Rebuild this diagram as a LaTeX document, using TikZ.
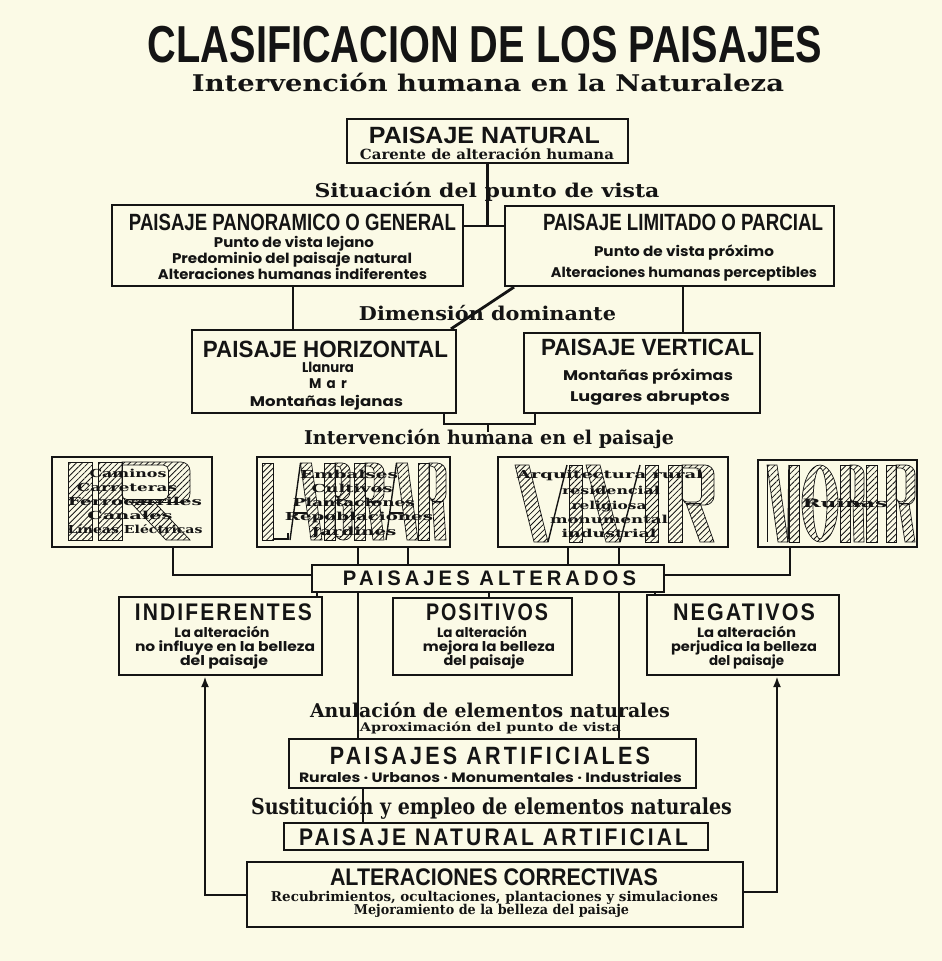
\documentclass[tikz,border=0pt]{standalone}
\usepackage{fontspec}
\usepackage{graphicx}
\usetikzlibrary{arrows.meta,patterns.meta,fit}
\newfontfamily\headf{Liberation Sans}
\newfontfamily\serf{DejaVu Serif}
\newfontfamily\geof{Poppins}
\definecolor{bg}{HTML}{FBFAE6}
\definecolor{ink}{HTML}{141414}
\pgfdeclarelayer{bgl}
\pgfdeclarelayer{back}
\pgfsetlayers{bgl,back,main}
\newcommand\fw[2]{\resizebox{#1pt}{\height}{#2}}
\newcommand\HF[1]{\headf\bfseries\fontsize{#1}{#1}\selectfont}
\newcommand\SF[1]{\serf\bfseries\fontsize{#1}{#1}\selectfont}
\newcommand\GF[1]{\geof\bfseries\fontsize{#1}{#1}\selectfont}
% hatched letters
\newcommand\ltrI[2]{\path[hatchL] (#1,\lTop) rectangle ({#1+#2},\lBot);}
\newcommand\ltrL[3]{\path[hatchL] (#1,\lTop) rectangle ({#1+#3},\lBot);
 \draw[thinL] ({#1+#3},{\lBot-1}) -- ({#1+#2},{\lBot-1}) -- ({#1+#2},{\lBot-7});}
\newcommand\ltrA[3]{%
 \draw[thinL] (#1,\lBot) -- ({#1+#2/2-#3/2},\lTop);
 \path[hatchL] ({#1+#2/2-#3/2},\lTop) -- ({#1+#2/2+#3/2},\lTop) -- ({#1+#2},\lBot) -- ({#1+#2-#3},\lBot) -- cycle;
 \draw[thinL] ({#1+0.35*(#2/2-#3/2)},{\lTop+0.65*(\lBot-\lTop)}) -- ({#1+1.65*(#2/2-#3/2)},{\lTop+0.65*(\lBot-\lTop)});}
\newcommand\ltrR[3]{%
 \path[hatchL] (#1,\lTop) rectangle ({#1+#3},\lBot);
 \path[hatchL] ({#1+#3*1.3},{\lTop+0.5*(\lBot-\lTop)}) -- ({#1+#3*2.3},{\lTop+0.5*(\lBot-\lTop)}) -- ({#1+#2},\lBot) -- ({#1+#2-#3},\lBot) -- cycle;
 \path[hatchL,even odd rule] ({#1+#3},\lTop) [rounded corners=9pt] -- ({#1+#2},\lTop) -- ({#1+#2},{\lTop+0.52*(\lBot-\lTop)}) -- ({#1+#3},{\lTop+0.52*(\lBot-\lTop)}) [sharp corners] -- cycle
   ({#1+#3},{\lTop+3}) [rounded corners=5pt] -- ({#1+#2-#3*0.9},{\lTop+3}) -- ({#1+#2-#3*0.9},{\lTop+0.52*(\lBot-\lTop)-3}) -- ({#1+#3},{\lTop+0.52*(\lBot-\lTop)-3}) [sharp corners] -- cycle;}
\newcommand\ltrB[3]{%
 \path[hatchL] (#1,\lTop) rectangle ({#1+#3},\lBot);
 \path[hatchL,even odd rule] ({#1+#3},\lTop) [rounded corners=8pt] -- ({#1+#2-2},\lTop) -- ({#1+#2-2},{\lTop+0.48*(\lBot-\lTop)}) -- ({#1+#3},{\lTop+0.48*(\lBot-\lTop)}) [sharp corners] -- cycle
   ({#1+#3},{\lTop+3}) [rounded corners=4pt] -- ({#1+#2-2-#3*0.8},{\lTop+3}) -- ({#1+#2-2-#3*0.8},{\lTop+0.48*(\lBot-\lTop)-3}) -- ({#1+#3},{\lTop+0.48*(\lBot-\lTop)-3}) [sharp corners] -- cycle;
 \path[hatchL,even odd rule] ({#1+#3},{\lTop+0.48*(\lBot-\lTop)}) [rounded corners=8pt] -- ({#1+#2},{\lTop+0.48*(\lBot-\lTop)}) -- ({#1+#2},\lBot) -- ({#1+#3},\lBot) [sharp corners] -- cycle
   ({#1+#3},{\lTop+0.48*(\lBot-\lTop)+3}) [rounded corners=4pt] -- ({#1+#2-#3*0.8},{\lTop+0.48*(\lBot-\lTop)+3}) -- ({#1+#2-#3*0.8},{\lBot-3}) -- ({#1+#3},{\lBot-3}) [sharp corners] -- cycle;}
\newcommand\ltrV[3]{%
 \path[hatchL] (#1,\lTop) -- ({#1+#3},\lTop) -- ({#1+#2/2+#3/2},\lBot) -- ({#1+#2/2-#3/2},\lBot) -- cycle;
 \draw[thinL] ({#1+#2},\lTop) -- ({#1+#2/2+#3/2},\lBot);}
\newcommand\ltrM[3]{%
 \draw[thinL] ({#1+0.7},\lTop) -- ({#1+0.7},\lBot);
 \path[hatchL] (#1,\lTop) -- ({#1+#3},\lTop) -- ({#1+#2/2+#3/2},\lBot) -- ({#1+#2/2-#3/2},\lBot) -- cycle;
 \draw[thinL] ({#1+#2/2+#3/2},\lBot) -- ({#1+#2-#3},\lTop);
 \path[hatchL] ({#1+#2-#3},\lTop) rectangle ({#1+#2},\lBot);}
\newcommand\ltrO[3]{%
 \path[hatchL,even odd rule] ({#1+#2/2},{(\lTop+\lBot)/2}) ellipse [x radius={#2/2}, y radius={(\lBot-\lTop)/2}]
   ({#1+#2/2},{(\lTop+\lBot)/2}) ellipse [x radius={#2/2-#3}, y radius={(\lBot-\lTop)/2-3}];}
\begin{document}
\begin{tikzpicture}[x=1pt,y=-1pt,
  box/.style={draw=ink, line width=2.2pt, fill=bg, inner sep=0pt},
  conn/.style={draw=ink, line width=2.8pt},
  txt/.style={anchor=base, inner sep=0pt, outer sep=0pt, text=ink},
  wtxt/.style={anchor=base, inner sep=0pt, outer sep=0pt, text=ink},
  hatchL/.style={draw=ink, line width=0.7pt, pattern={Lines[angle=45,distance=4.2pt,line width=0.8pt]}, pattern color=ink},
  thinL/.style={draw=ink, line width=1.4pt},
  tip/.style={-{Latex[length=11pt,width=8pt]}}]
\begin{pgfonlayer}{bgl}
\fill[bg] (0,0) rectangle (942,961);
\end{pgfonlayer}
\useasboundingbox (0,0) rectangle (942,961);
% boxes
\node[box, fit={(347,119) (628,163)}] (nat) {};
\node[box, fit={(112,205) (463,286)}] (pan) {};
\node[box, fit={(505,206) (834,286)}] (lim) {};
\node[box, fit={(192,330) (456,413)}] (hor) {};
\node[box, fit={(524,333) (760,413)}] (ver) {};
\node[box, fit={(52,457) (212,547)}] (ir) {};
\node[box, fit={(257,457) (450,547)}] (lab) {};
\node[box, fit={(498,457) (728,547)}] (viv) {};
\node[box, fit={(758,460) (917,547)}] (mor) {};
\node[box, fit={(312,565) (664,592)}] (alt) {};
\node[box, fit={(119,597) (322,675)}] (ind) {};
\node[box, fit={(393,598) (572,675)}] (pos) {};
\node[box, fit={(647,595) (839,675)}] (neg) {};
\node[box, fit={(289,739) (696,788)}] (art) {};
\node[box, fit={(284,823) (708,850)}] (natart) {};
\node[box, fit={(247,862) (743,927)}] (cor) {};
% helper coordinates
\coordinate (jN) at (485,226);
\coordinate (xa) at (293,0);
\coordinate (xb1) at (514,0);
\coordinate (xb2) at (451,0);
\coordinate (xc) at (683,0);
\coordinate (yd) at (0,424);
\coordinate (xd1) at (444,0);
\coordinate (xd2) at (535,0);
\coordinate (tickend) at (488,432);
\coordinate (xe) at (173,0);
\coordinate (ye) at (0,575);
\coordinate (xf) at (790,0);
\coordinate (xg) at (358,0);
\coordinate (xh) at (408,0);
\coordinate (xi) at (568,0);
\coordinate (xj) at (619,0);
\coordinate (xk) at (489,0);
\coordinate (xn1) at (317,0);
\coordinate (xn2) at (655,0);
\coordinate (xm) at (363,0);
\coordinate (xl) at (205,0);
\coordinate (yl) at (0,895);
\coordinate (xr) at (777,0);
\coordinate (yr) at (0,892);
% connectors
\begin{pgfonlayer}{back}
\draw[conn] (nat.south) -- (nat.south |- jN);
\draw[conn] (pan.east |- jN) -- (lim.west |- jN);
\draw[conn] (pan.south -| xa) -- (hor.north -| xa);
\draw[conn] (lim.south -| xb1) -- (hor.north -| xb2);
\draw[conn] (lim.south -| xc) -- (ver.north -| xc);
\draw[conn] (hor.south -| xd1) |- (xd2 |- yd) -- (ver.south -| xd2);
\draw[conn] (tickend |- yd) -- (tickend);
\draw[conn] (ir.south -| xe) |- (alt.west |- ye);
\draw[conn] (mor.south -| xf) |- (alt.east |- ye);
\draw[conn] (lab.south -| xg) -- (art.north -| xg);
\draw[conn] (lab.south -| xh) -- (alt.north -| xh);
\draw[conn] (viv.south -| xi) -- (alt.north -| xi);
\draw[conn] (viv.south -| xj) -- (art.north -| xj);
\draw[conn] (alt.south -| xk) -- (pos.north -| xk);
\draw[conn] (alt.south -| xn1) -- (ind.north -| xn1);
\draw[conn] (alt.south -| xn2) -- (neg.north -| xn2);
\draw[conn] (art.south -| xm) -- (natart.north -| xm);
\draw[conn,tip] (cor.west |- yl) -| (ind.south -| xl);
\draw[conn,tip] (cor.east |- yr) -| (neg.south -| xr);
\end{pgfonlayer}
% big hatched words
\def\lTop{462}\def\lBot{540}
\ltrI{68}{24}
\ltrR{98}{92}{24}
\def\lTop{463}\def\lBot{540}
\ltrL{262}{26}{11}
\ltrA{290}{32}{11}
\ltrB{324}{28}{11}
\ltrR{354}{30}{11}
\ltrA{386}{32}{11}
\ltrR{418}{28}{11}
\def\lTop{465}\def\lBot{542}
\ltrV{515}{52}{14}
\ltrI{569}{13}
\ltrV{586}{54}{14}
\ltrI{645}{13}
\ltrR{668}{46}{14}
\ltrM{767}{32}{10}
\ltrO{802}{36}{11}
\ltrR{840}{24}{10}
\ltrI{866}{11}
\ltrR{886}{29}{10}
% texts
\node[txt] (title) at (485,62) {\HF{52}\fw{674}{CLASIFICACION DE LOS PAISAJES}};
\node[txt] (sub) at (488,91) {\SF{23}\fw{592}{Intervención humana en la Naturaleza}};
\node[txt] (natT) at (484.5,143) {\HF{23.5}\fw{231}{PAISAJE NATURAL}};
\node[txt] (natS) at (487,159) {\SF{14}\fw{254}{Carente de alteración humana}};
\node[txt] (sit) at (487,197) {\SF{19}\fw{345}{Situación del punto de vista}};
\node[txt] (panT) at (292.5,230) {\HF{23.5}\fw{327}{PAISAJE PANORAMICO O GENERAL}};
\node[txt] (pan1) at (294,247) {\GF{14}\fw{160}{Punto de vista lejano}};
\node[txt] (pan2) at (292,263) {\GF{14}\fw{240}{Predominio del paisaje natural}};
\node[txt] (pan3) at (292.5,279) {\GF{14}\fw{269}{Alteraciones humanas indiferentes}};
\node[txt] (limT) at (683,230) {\HF{23.5}\fw{280}{PAISAJE LIMITADO O PARCIAL}};
\node[txt] (lim1) at (684,256) {\GF{14}\fw{180}{Punto de vista próximo}};
\node[txt] (lim2) at (684,277) {\GF{14}\fw{266}{Alteraciones humanas perceptibles}};
\node[txt] (dim) at (487.5,320) {\SF{19}\fw{257}{Dimensión dominante}};
\node[txt] (horT) at (325.5,357) {\HF{23.5}\fw{245}{PAISAJE HORIZONTAL}};
\node[txt] (hor1) at (328,372) {\GF{14}\fw{52}{Llanura}};
\node[txt] (hor2) at (328,388) {\GF{14}\addfontfeatures{LetterSpace=40}\fw{38}{Mar}};
\node[txt] (hor3) at (326.5,406) {\GF{14}\fw{153}{Montañas lejanas}};
\node[txt] (verT) at (647.5,355) {\HF{23.5}\fw{213}{PAISAJE VERTICAL}};
\node[txt] (ver1) at (648,380) {\GF{14}\fw{170}{Montañas próximas}};
\node[txt] (ver2) at (650,401) {\GF{14}\fw{160}{Lugares abruptos}};
\node[txt] (intv) at (489,444) {\SF{19}\fw{370}{Intervención humana en el paisaje}};
% word box texts
\node[wtxt] (ir1) at (128,477) {\SF{11}\fw{77}{Caminos}};
\node[wtxt] (ir2) at (127,491) {\SF{11}\fw{100}{Carreteras}};
\node[wtxt] (ir3) at (135,505) {\SF{11}\fw{134}{Ferrocarriles}};
\node[wtxt] (ir4) at (130,519) {\SF{11}\fw{85}{Canales}};
\node[wtxt] (ir5) at (135,533) {\SF{11}\fw{135}{Líneas Eléctricas}};
\node[wtxt] (lab1) at (349,478) {\SF{11}\fw{98}{Embalses}};
\node[wtxt] (lab2) at (352,492) {\SF{11}\fw{81}{Cultivos}};
\node[wtxt] (lab3) at (354,506) {\SF{11}\fw{122}{Plantaciones}};
\node[wtxt] (lab4) at (359,520) {\SF{11}\fw{148}{Repoblaciones}};
\node[wtxt] (lab5) at (354,535) {\SF{11}\fw{85}{Jardines}};
\node[wtxt] (viv1) at (610,478) {\SF{11}\fw{186}{Arquitectura rural}};
\node[wtxt] (viv2) at (611,494) {\SF{11}\fw{98}{residencial}};
\node[wtxt] (viv3) at (609,509) {\SF{11}\fw{75}{religiosa}};
\node[wtxt] (viv4) at (609,523) {\SF{11}\fw{118}{monumental}};
\node[wtxt] (viv5) at (609,537) {\SF{11}\fw{95}{industrial}};
\node[wtxt] (mor1) at (845,507) {\SF{11.5}\fw{85}{Ruinas}};
% lower part
\node[txt] (altT) at (489.5,585) {\HF{21}\addfontfeatures{LetterSpace=20}\fw{293}{PAISAJES ALTERADOS}};
\node[txt] (indT) at (223.5,620) {\HF{24}\addfontfeatures{LetterSpace=10}\fw{177}{INDIFERENTES}};
\node[txt] (ind1) at (222,637) {\GF{13.5}\fw{95}{La alteración}};
\node[txt] (ind2) at (225,651) {\GF{13.5}\fw{180}{no influye en la belleza}};
\node[txt] (ind3) at (224,665) {\GF{13.5}\fw{88}{del paisaje}};
\node[txt] (posT) at (487,620) {\HF{24}\addfontfeatures{LetterSpace=10}\fw{122}{POSITIVOS}};
\node[txt] (pos1) at (482,637) {\GF{13.5}\fw{90}{La alteración}};
\node[txt] (pos2) at (489,651) {\GF{13.5}\fw{132}{mejora la belleza}};
\node[txt] (pos3) at (484,665) {\GF{13.5}\fw{81}{del paisaje}};
\node[txt] (negT) at (744,620) {\HF{24}\addfontfeatures{LetterSpace=10}\fw{142}{NEGATIVOS}};
\node[txt] (neg1) at (746.5,637) {\GF{13.5}\fw{99}{La alteración}};
\node[txt] (neg2) at (744,651) {\GF{13.5}\fw{146}{perjudica la belleza}};
\node[txt] (neg3) at (746.5,665) {\GF{13.5}\fw{75}{del paisaje}};
\node[txt] (anu) at (490,717) {\SF{19}\fw{360}{Anulación de elementos naturales}};
\node[txt] (apr) at (490.5,731) {\SF{12}\fw{261}{Aproximación del punto de vista}};
\node[txt] (artT) at (490,764) {\HF{25}\addfontfeatures{LetterSpace=15}\fw{320}{PAISAJES ARTIFICIALES}};
\node[txt] (art1) at (490.5,782) {\GF{13.5}\fw{383}{Rurales · Urbanos · Monumentales · Industriales}};
\node[txt] (sus) at (491.5,814) {\SF{22}\fw{481}{Sustitución y empleo de elementos naturales}};
\node[txt] (natartT) at (493.5,845) {\HF{24}\addfontfeatures{LetterSpace=15}\fw{389}{PAISAJE NATURAL ARTIFICIAL}};
\node[txt] (corT) at (494,885) {\HF{24}\fw{328}{ALTERACIONES CORRECTIVAS}};
\node[txt] (cor1) at (494.5,901) {\SF{13.5}\fw{447}{Recubrimientos, ocultaciones, plantaciones y simulaciones}};
\node[txt] (cor2) at (491.5,914) {\SF{13.5}\fw{275}{Mejoramiento de la belleza del paisaje}};
\end{tikzpicture}
\end{document}
